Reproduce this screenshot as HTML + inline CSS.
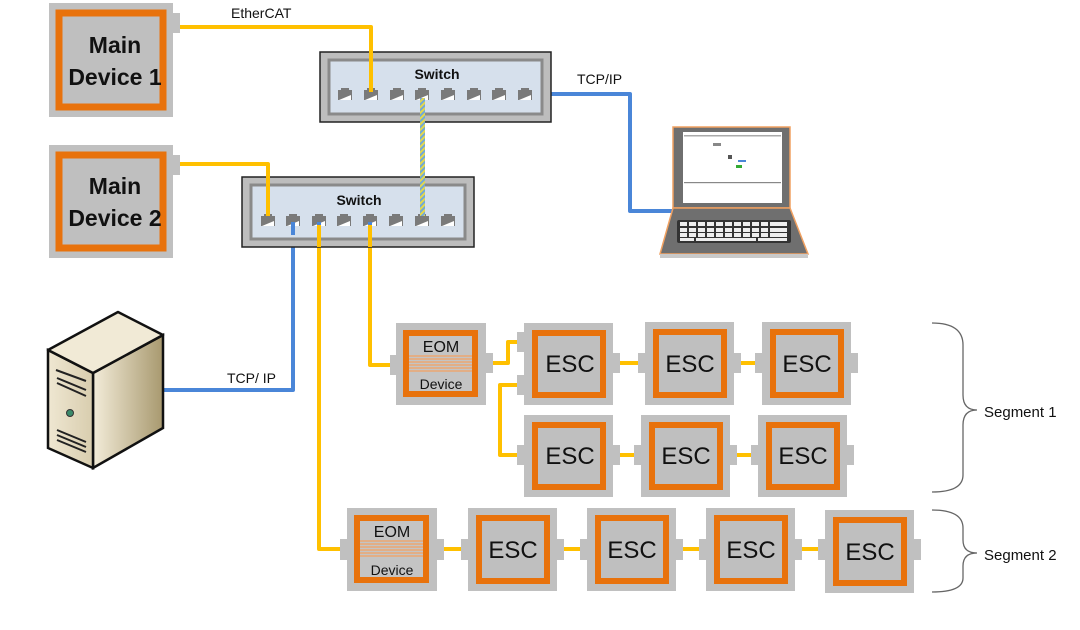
<!DOCTYPE html>
<html><head><meta charset="utf-8"><style>
html,body{margin:0;padding:0;background:#fff;width:1080px;height:630px;overflow:hidden}
svg{display:block}
text{font-family:"Liberation Sans","DejaVu Sans",sans-serif;fill:#111}
</style></head><body>
<svg width="1080" height="630" viewBox="0 0 1080 630" xmlns="http://www.w3.org/2000/svg">
<defs>
<pattern id="stripe" width="4" height="4" patternUnits="userSpaceOnUse" patternTransform="rotate(45)">
<rect width="4" height="4" fill="#6fa8dc"/><rect width="2" height="4" fill="#e6d84a"/></pattern>
<g id="port"><path d="M0,2 h3 v-2 h8 v2 h3 v10 h-14z" fill="#7a7a7a"/><path d="M1,12 L13,7 L13,12z" fill="#fff"/></g>
<linearGradient id="sv1" x1="0" x2="1"><stop offset="0" stop-color="#f3ecd9"/><stop offset="1" stop-color="#a8996f"/></linearGradient>
<linearGradient id="sv2" x1="0" x2="1"><stop offset="0" stop-color="#efe7d2"/><stop offset="1" stop-color="#d8cdae"/></linearGradient>
</defs>

<!-- connectors -->
<g fill="none" stroke-linejoin="round">
<path d="M178,27 H371 V92" stroke="#ffc000" stroke-width="4"/>
<path d="M178,164 H268 V218" stroke="#ffc000" stroke-width="4"/>
<path d="M525,94 H630 V211 H673" stroke="#4a86d8" stroke-width="4"/>
<path d="M293,222 V390 H163" stroke="#4a86d8" stroke-width="4"/>
<path d="M319,222 V549 H342" stroke="#ffc000" stroke-width="4"/>
<path d="M370,222 V365 H392" stroke="#ffc000" stroke-width="4"/>
<path d="M491,363 H508 V342 H520" stroke="#ffc000" stroke-width="4"/>
<path d="M520,385 H500 V455 H520" stroke="#ffc000" stroke-width="4"/>
<path d="M615,363 H642 M732,363 H760 M613,455 H640 M730,455 H756 M435,549 H466 M555,549 H585 M674,549 H704 M793,549 H823" stroke="#ffc000" stroke-width="4"/>
</g>
<rect x="420" y="98" width="5" height="116" fill="url(#stripe)"/>

<text x="231" y="18" font-size="14">EtherCAT</text>
<text x="577" y="84" font-size="14">TCP/IP</text>
<text x="227" y="383" font-size="14">TCP/ IP</text>

<!-- Main devices -->
<g>
<rect x="49" y="3" width="124" height="114" fill="#c0c0c0"/>
<rect x="173" y="13" width="7" height="20" fill="#c0c0c0"/>
<rect x="59" y="13" width="104" height="94" fill="#bfbfbf" stroke="#e8720c" stroke-width="7"/>
<text x="115" y="53" font-size="23" font-weight="bold" text-anchor="middle">Main</text>
<text x="115" y="85" font-size="23" font-weight="bold" text-anchor="middle">Device 1</text>
</g>
<g>
<rect x="49" y="145" width="124" height="113" fill="#c0c0c0"/>
<rect x="173" y="155" width="7" height="20" fill="#c0c0c0"/>
<rect x="59" y="155" width="104" height="93" fill="#bfbfbf" stroke="#e8720c" stroke-width="7"/>
<text x="115" y="194" font-size="23" font-weight="bold" text-anchor="middle">Main</text>
<text x="115" y="226" font-size="23" font-weight="bold" text-anchor="middle">Device 2</text>
</g>

<!-- Switch 1 -->
<rect x="320" y="52" width="231" height="70" fill="#bdbdbd" stroke="#222" stroke-width="1.5"/>
<rect x="329" y="60" width="213" height="54" fill="#d6e0ec" stroke="#8a8a8a" stroke-width="3"/>
<text x="437" y="79" font-size="14" font-weight="bold" text-anchor="middle">Switch</text>
<use href="#port" x="338" y="88"/><use href="#port" x="364" y="88"/><use href="#port" x="390" y="88"/><use href="#port" x="415" y="88"/><use href="#port" x="441" y="88"/><use href="#port" x="467" y="88"/><use href="#port" x="492" y="88"/><use href="#port" x="518" y="88"/>
<!-- Switch 2 -->
<rect x="242" y="177" width="232" height="70" fill="#bdbdbd" stroke="#222" stroke-width="1.5"/>
<rect x="251" y="185" width="214" height="54" fill="#d6e0ec" stroke="#8a8a8a" stroke-width="3"/>
<text x="359" y="205" font-size="14" font-weight="bold" text-anchor="middle">Switch</text>
<use href="#port" x="261" y="214"/><use href="#port" x="286" y="214"/><use href="#port" x="312" y="214"/><use href="#port" x="337" y="214"/><use href="#port" x="363" y="214"/><use href="#port" x="389" y="214"/><use href="#port" x="415" y="214"/><use href="#port" x="441" y="214"/>
<path d="M371,28 V92 M268,164 V216" stroke="#ffc000" stroke-width="4"/>
<path d="M293,222 V235 M319,222 V245 M370,222 V245" stroke-width="4" stroke="#4a86d8" />
<path d="M319,225 V247 M370,225 V247" stroke-width="4" stroke="#ffc000"/>
<rect x="420" y="98" width="5" height="118" fill="url(#stripe)"/>

<!-- Laptop -->
<rect x="673" y="127" width="117" height="81" fill="#6f6f6f" stroke="#f0a060" stroke-width="1.5"/>
<rect x="683" y="132" width="99" height="71" fill="#fff"/>
<rect x="684" y="135" width="97" height="1.5" fill="#aaa"/>
<rect x="684" y="182" width="97" height="1.2" fill="#888"/>
<rect x="713" y="143" width="8" height="3" fill="#888"/><rect x="728" y="155" width="4" height="4" fill="#555"/><rect x="738" y="160" width="8" height="2" fill="#4a86d8"/><rect x="736" y="165" width="6" height="3" fill="#3a3"/>
<path d="M673,208 H790 L808,254 H660 Z" fill="#6f6f6f" stroke="#f0a060" stroke-width="1.5"/>
<rect x="660" y="254" width="148" height="4" fill="#c9c9c9"/>
<rect x="677" y="220" width="114" height="23" rx="2" fill="#333"/>
<g fill="#eee">
<rect x="680" y="222" width="7" height="4"/><rect x="689" y="222" width="7" height="4"/><rect x="698" y="222" width="7" height="4"/><rect x="707" y="222" width="7" height="4"/><rect x="716" y="222" width="7" height="4"/><rect x="725" y="222" width="7" height="4"/><rect x="734" y="222" width="7" height="4"/><rect x="743" y="222" width="7" height="4"/><rect x="752" y="222" width="7" height="4"/><rect x="761" y="222" width="7" height="4"/><rect x="770" y="222" width="17" height="4"/>
<rect x="680" y="228" width="7" height="4"/><rect x="689" y="228" width="7" height="4"/><rect x="698" y="228" width="7" height="4"/><rect x="707" y="228" width="7" height="4"/><rect x="716" y="228" width="7" height="4"/><rect x="725" y="228" width="7" height="4"/><rect x="734" y="228" width="7" height="4"/><rect x="743" y="228" width="7" height="4"/><rect x="752" y="228" width="7" height="4"/><rect x="761" y="228" width="7" height="4"/><rect x="770" y="228" width="17" height="4"/>
<rect x="680" y="233" width="7" height="4"/><rect x="689" y="233" width="7" height="4"/><rect x="698" y="233" width="7" height="4"/><rect x="707" y="233" width="7" height="4"/><rect x="716" y="233" width="7" height="4"/><rect x="725" y="233" width="7" height="4"/><rect x="734" y="233" width="7" height="4"/><rect x="743" y="233" width="7" height="4"/><rect x="752" y="233" width="7" height="4"/><rect x="761" y="233" width="7" height="4"/><rect x="770" y="233" width="17" height="4"/>
<rect x="680" y="238" width="14" height="3"/><rect x="696" y="238" width="60" height="3"/><rect x="758" y="238" width="29" height="3"/>
</g>

<!-- Server -->
<path d="M93,373 L163,335 L163,428 L93,468 Z" fill="url(#sv1)" stroke="#111" stroke-width="2.5"/>
<path d="M48,350 L93,373 L93,468 L48,448 Z" fill="url(#sv2)" stroke="#111" stroke-width="2.5"/>
<path d="M48,350 L118,312 L163,335 L93,373 Z" fill="#f1ead6" stroke="#111" stroke-width="2.5" stroke-linejoin="round"/>
<path d="M56,370 L86,381 M57,378 L86,390 M57,383 L86,396 M57,430 L86,442 M57,435 L86,447 M57,440 L86,452" stroke="#222" stroke-width="2"/>
<circle cx="70" cy="413" r="3.5" fill="#3a8a6a" stroke="#333"/>

<!-- EOM 1 -->
<rect x="390" y="355" width="7" height="20" fill="#c0c0c0"/><rect x="486" y="353" width="7" height="20" fill="#c0c0c0"/>
<rect x="396" y="323" width="90" height="82" fill="#c0c0c0"/>
<rect x="406" y="333" width="69" height="61" fill="#c4c4c4" stroke="#e8720c" stroke-width="6"/>
<g stroke="#f4a060" stroke-width="1.3"><path d="M409,356 H472 M409,359 H472 M409,362 H472 M409,365 H472 M409,368 H472 M409,371 H472"/></g>
<text x="441" y="352" font-size="16" text-anchor="middle">EOM</text>
<text x="441" y="389" font-size="14" text-anchor="middle">Device</text>
<!-- EOM 2 -->
<rect x="340" y="539" width="7" height="21" fill="#c0c0c0"/><rect x="437" y="539" width="7" height="21" fill="#c0c0c0"/>
<rect x="347" y="508" width="90" height="83" fill="#c0c0c0"/>
<rect x="357" y="518" width="69" height="62" fill="#c4c4c4" stroke="#e8720c" stroke-width="6"/>
<g stroke="#f4a060" stroke-width="1.3"><path d="M360,541 H423 M360,544 H423 M360,547 H423 M360,550 H423 M360,553 H423 M360,556 H423"/></g>
<text x="392" y="537" font-size="16" text-anchor="middle">EOM</text>
<text x="392" y="575" font-size="14" text-anchor="middle">Device</text>

<!-- ESC boxes -->
<g fill="#c0c0c0">
<rect x="517" y="332" width="7" height="20"/><rect x="517" y="375" width="7" height="20"/><rect x="613" y="353" width="7" height="20"/>
<rect x="638" y="353" width="7" height="20"/><rect x="734" y="353" width="7" height="20"/>
<rect x="755" y="353" width="7" height="20"/><rect x="851" y="353" width="7" height="20"/>
<rect x="517" y="445" width="7" height="20"/><rect x="613" y="445" width="7" height="20"/>
<rect x="634" y="445" width="7" height="20"/><rect x="730" y="445" width="7" height="20"/>
<rect x="751" y="445" width="7" height="20"/><rect x="847" y="445" width="7" height="20"/>
<rect x="461" y="539" width="7" height="21"/><rect x="557" y="539" width="7" height="21"/>
<rect x="580" y="539" width="7" height="21"/><rect x="676" y="539" width="7" height="21"/>
<rect x="699" y="539" width="7" height="21"/><rect x="795" y="539" width="7" height="21"/>
<rect x="818" y="539" width="7" height="21"/><rect x="914" y="539" width="7" height="21"/>
<rect x="524" y="323" width="89" height="82"/><rect x="645" y="322" width="89" height="83"/><rect x="762" y="322" width="89" height="83"/>
<rect x="524" y="415" width="89" height="82"/><rect x="641" y="415" width="89" height="82"/><rect x="758" y="415" width="89" height="82"/>
<rect x="468" y="508" width="89" height="83"/><rect x="587" y="508" width="89" height="83"/><rect x="706" y="508" width="89" height="83"/><rect x="825" y="510" width="89" height="83"/>
</g>
<g fill="#bfbfbf" stroke="#e8720c" stroke-width="6">
<rect x="535" y="333" width="68" height="62"/><rect x="656" y="332" width="68" height="63"/><rect x="773" y="332" width="68" height="63"/>
<rect x="535" y="425" width="68" height="62"/><rect x="652" y="425" width="68" height="62"/><rect x="769" y="425" width="68" height="62"/>
<rect x="479" y="518" width="68" height="63"/><rect x="598" y="518" width="68" height="63"/><rect x="717" y="518" width="68" height="63"/><rect x="836" y="520" width="68" height="63"/>
</g>
<g font-size="24" text-anchor="middle">
<text x="570" y="372">ESC</text><text x="690" y="372">ESC</text><text x="807" y="372">ESC</text>
<text x="570" y="464">ESC</text><text x="686" y="464">ESC</text><text x="803" y="464">ESC</text>
<text x="513" y="558">ESC</text><text x="632" y="558">ESC</text><text x="751" y="558">ESC</text><text x="870" y="560">ESC</text>
</g>

<!-- Braces -->
<g fill="none" stroke="#666" stroke-width="1.3">
<path d="M932,323 Q963,323 963,345 V395 Q963,410 977,410 Q963,410 963,425 V475 Q963,492 932,492"/>
<path d="M932,510 Q963,510 963,528 V540 Q963,553 977,553 Q963,553 963,566 V578 Q963,592 932,592"/>
</g>
<text x="984" y="417" font-size="15">Segment 1</text>
<text x="984" y="560" font-size="15">Segment 2</text>
</svg>
</body></html>
